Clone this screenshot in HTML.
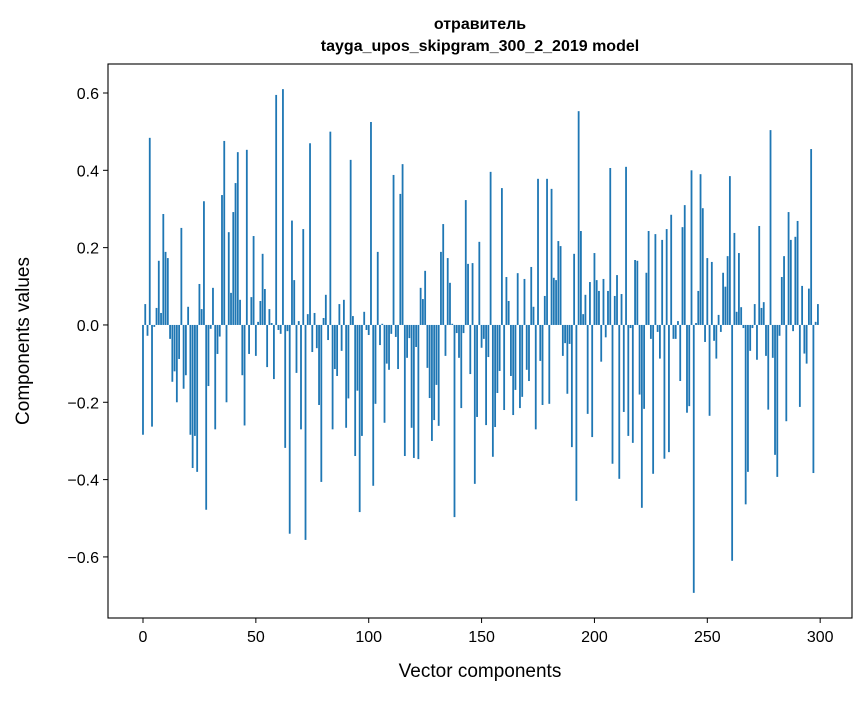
<!DOCTYPE html>
<html><head><meta charset="utf-8"><style>
body{margin:0;background:#fff;}
svg text{font-family:"Liberation Sans","DejaVu Sans",sans-serif;fill:#000;}
</style></head><body>
<svg id="chart" width="867" height="696" xmlns="http://www.w3.org/2000/svg">
<rect width="867" height="696" fill="#fff"/>
<text x="480" y="29" text-anchor="middle" font-size="16" font-weight="bold">отравитель</text>
<text x="480" y="51" text-anchor="middle" font-size="16" font-weight="bold">tayga_upos_skipgram_300_2_2019 model</text>
<g id="bars"></g>
<g id="axes"></g>
<text x="480" y="677" text-anchor="middle" font-size="19">Vector components</text>
<text transform="translate(29,341) rotate(-90)" text-anchor="middle" font-size="19">Components values</text>
</svg>
<script>
const values = [
-0.284,0.054,-0.028,0.484,-0.263,-0.005,0.044,0.166,0.031,0.287,
0.189,0.173,-0.036,-0.147,-0.12,-0.2,-0.088,0.251,-0.165,-0.13,
0.047,-0.284,-0.37,-0.287,-0.38,0.106,0.041,0.32,-0.478,-0.158,
-0.01,0.096,-0.27,-0.075,-0.03,0.336,0.476,-0.2,0.24,0.083,
0.292,0.367,0.447,0.065,-0.13,-0.26,0.453,-0.075,0.072,0.23,
-0.08,0.008,0.062,0.184,0.093,-0.109,0.041,0.005,-0.14,0.595,
-0.013,-0.023,0.61,-0.318,-0.016,-0.54,0.27,0.116,-0.124,0.01,
-0.27,0.248,-0.556,0.028,0.47,-0.07,0.031,-0.06,-0.207,-0.406,
0.018,0.078,-0.039,0.5,-0.27,-0.114,-0.132,0.054,-0.067,0.065,
-0.266,-0.19,0.427,0.023,-0.339,-0.17,-0.484,-0.287,0.034,-0.013,
-0.026,0.525,-0.416,-0.204,0.189,-0.052,0.003,-0.253,-0.1,-0.116,
-0.023,0.388,-0.031,-0.114,0.339,0.416,-0.339,-0.085,-0.034,-0.266,
-0.344,-0.057,-0.347,0.096,0.067,0.14,-0.111,-0.189,-0.3,-0.246,
-0.155,-0.261,0.189,0.261,-0.08,0.173,0.109,0.003,-0.497,-0.021,
-0.085,-0.215,-0.021,0.323,0.158,-0.127,0.16,-0.411,-0.238,0.215,
-0.059,-0.036,-0.259,-0.083,0.396,-0.341,-0.264,-0.176,-0.119,0.354,
-0.22,0.124,0.062,-0.132,-0.233,-0.168,0.134,-0.215,-0.186,0.119,
-0.116,-0.145,0.15,0.047,-0.27,0.378,-0.093,-0.207,0.075,0.378,
-0.204,0.352,0.122,0.116,0.217,0.204,-0.08,-0.047,-0.178,-0.049,
-0.316,0.184,-0.455,0.553,0.243,0.028,0.078,-0.23,0.111,-0.29,
0.186,0.116,0.088,-0.095,0.119,-0.032,0.088,0.406,-0.359,0.075,
0.129,-0.398,0.08,-0.225,0.409,-0.287,-0.008,-0.305,0.168,0.166,
-0.18,-0.473,-0.217,0.135,0.243,-0.036,-0.385,0.235,-0.018,-0.087,
0.22,-0.346,0.248,-0.329,0.285,-0.036,-0.036,0.01,-0.145,0.253,
0.31,-0.227,-0.21,0.4,-0.693,0.005,0.088,0.39,0.302,-0.044,
0.173,-0.235,0.163,-0.041,-0.087,0.026,-0.018,0.135,0.099,0.178,
0.385,-0.61,0.238,0.034,0.186,0.046,-0.008,-0.464,-0.38,-0.067,
-0.008,0.054,-0.09,0.256,0.044,0.059,-0.08,-0.219,0.504,-0.085,
-0.336,-0.393,-0.028,0.124,0.178,-0.249,0.292,0.22,-0.016,0.228,
0.269,-0.212,0.101,-0.074,-0.1,0.094,0.455,-0.383,0.008,0.054
];
const xTicks = [0,50,100,150,200,250,300];
const yTicks = [-0.6,-0.4,-0.2,0.0,0.2,0.4,0.6];
const yTickLabels = ["\u22120.6","\u22120.4","\u22120.2","0.0","0.2","0.4","0.6"];

const L=108,R=852,T=64,B=618;
const xMin=-15.5,xMax=314.1,yMin=-0.758,yMax=0.675;
function xs(v){return L+(v-xMin)/(xMax-xMin)*(R-L);}
function ys(v){return T+(yMax-v)/(yMax-yMin)*(B-T);}
const NS="http://www.w3.org/2000/svg";
const bars=document.getElementById('bars');
const barW=xs(0.8)-xs(0);
values.forEach((v,i)=>{
  const r=document.createElementNS(NS,'rect');
  const y0=ys(0),y1=ys(v);
  r.setAttribute('x',xs(i)-barW/2);
  r.setAttribute('y',Math.min(y0,y1));
  r.setAttribute('width',barW);
  r.setAttribute('height',Math.abs(y1-y0));
  r.setAttribute('fill','#1f77b4');
  
  
  bars.appendChild(r);
});
const axes=document.getElementById('axes');
const frame=document.createElementNS(NS,'rect');
frame.setAttribute('x',L);frame.setAttribute('y',T);
frame.setAttribute('width',R-L);frame.setAttribute('height',B-T);
frame.setAttribute('fill','none');frame.setAttribute('stroke','#000');frame.setAttribute('stroke-width','1.1');


axes.appendChild(frame);
xTicks.forEach(t=>{
  const x=xs(t);
  const l=document.createElementNS(NS,'line');
  l.setAttribute('x1',x);l.setAttribute('x2',x);l.setAttribute('y1',B);l.setAttribute('y2',B+5);
  l.setAttribute('stroke','#000');
  
  
  axes.appendChild(l);
  const tx=document.createElementNS(NS,'text');
  tx.setAttribute('x',x);tx.setAttribute('y',B+24);tx.setAttribute('text-anchor','middle');tx.setAttribute('font-size','16');
  tx.textContent=String(t);
  
  
  axes.appendChild(tx);
});
yTicks.forEach((t,k)=>{
  const y=ys(t);
  const l=document.createElementNS(NS,'line');
  l.setAttribute('x1',L-5);l.setAttribute('x2',L);l.setAttribute('y1',y);l.setAttribute('y2',y);
  l.setAttribute('stroke','#000');
  
  
  axes.appendChild(l);
  const tx=document.createElementNS(NS,'text');
  tx.setAttribute('x',L-9);tx.setAttribute('y',y+6);tx.setAttribute('text-anchor','end');tx.setAttribute('font-size','16');
  tx.textContent=yTickLabels[k];
  
  
  axes.appendChild(tx);
});
</script>
</body></html>
